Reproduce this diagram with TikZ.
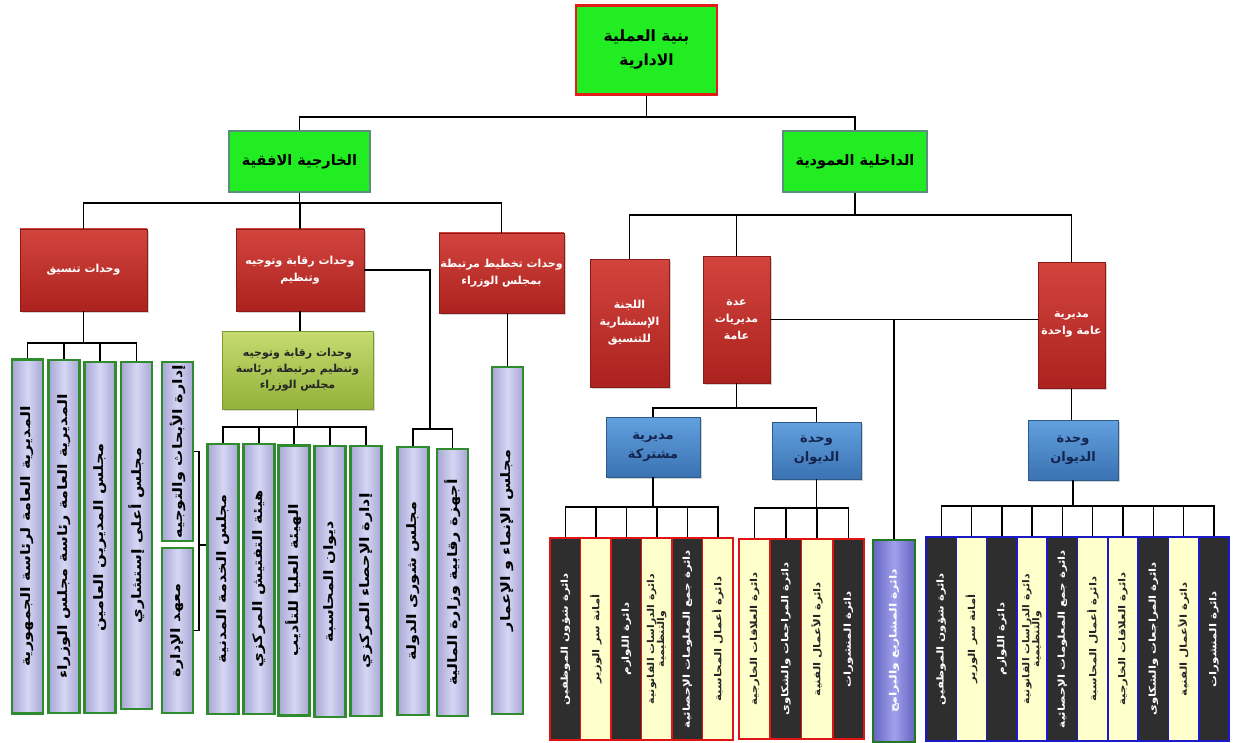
\documentclass[tikz,border=0pt]{standalone}
\usepackage{fontspec}
\usepackage{graphicx}
\usetikzlibrary{shadows}
\TeXXeTstate=1
\newfontfamily\arabicfont[Script=Arabic]{DejaVu Sans}
\newcommand{\AR}[1]{\beginR#1\endR}
\newcommand{\VT}[1]{\rotatebox{90}{\scalebox{1.24}[1]{\AR{#1}}}}
\newcommand{\VTT}[2]{\rotatebox{90}{\scalebox{1.15}[1]{\renewcommand{\arraystretch}{0.85}\begin{tabular}{@{}c@{}}\AR{#1}\\\AR{#2}\end{tabular}}}}
\definecolor{bgreen}{HTML}{22EC22}
\definecolor{topred}{HTML}{E41B1B}
\definecolor{tealb}{HTML}{5B8E7D}
\definecolor{redA}{HTML}{D2443E}
\definecolor{redB}{HTML}{AC221E}
\definecolor{oliveA}{HTML}{C6DB70}
\definecolor{oliveB}{HTML}{92B23A}
\definecolor{oliveD}{HTML}{7A9A30}
\definecolor{blueA}{HTML}{62A0DE}
\definecolor{blueB}{HTML}{3A72B2}
\definecolor{navy}{HTML}{14244E}
\definecolor{lavE}{HTML}{A6A6D4}
\definecolor{lavM}{HTML}{D6D6F4}
\definecolor{lavB}{HTML}{2E8B2E}
\definecolor{darkf}{HTML}{2E2E2E}
\definecolor{yelf}{HTML}{FFFFCC}
\definecolor{midred}{HTML}{E01414}
\definecolor{rblue}{HTML}{1A1AC8}
\definecolor{purA}{HTML}{6464C0}
\definecolor{purM}{HTML}{A0A0EC}
\definecolor{purB}{HTML}{1F7A1F}
\begin{document}
\begin{tikzpicture}[x=1pt,y=-1pt,
  conn/.style={draw=black, line width=1.4pt},
  topbox/.style={draw=topred, line width=2.5pt, fill=bgreen, inner sep=0pt, align=center,
    font=\arabicfont\bfseries\fontsize{15.5}{24}\selectfont},
  lvtwo/.style={draw=tealb, line width=1.5pt, fill=bgreen, inner sep=0pt, align=center,
    font=\arabicfont\bfseries\fontsize{14.5}{18}\selectfont},
  redbox/.style={draw=redB!80!black, line width=0.4pt, top color=redA, bottom color=redB, text=white,
    inner sep=0pt, align=center, drop shadow={opacity=0.35, shadow xshift=2pt, shadow yshift=-2pt},
    font=\arabicfont\bfseries\fontsize{11}{17}\selectfont},
  olivebox/.style={draw=oliveD, line width=0.6pt, top color=oliveA, bottom color=oliveB, text=black!85,
    inner sep=0pt, align=center, drop shadow={opacity=0.3, shadow xshift=2pt, shadow yshift=-2pt},
    font=\arabicfont\bfseries\fontsize{11}{16}\selectfont},
  bluebox/.style={draw=blueB!80!black, line width=0.5pt, top color=blueA, bottom color=blueB, text=navy,
    inner sep=0pt, align=center, drop shadow={opacity=0.35, shadow xshift=2pt, shadow yshift=-2pt},
    font=\arabicfont\bfseries\fontsize{13}{19}\selectfont},
  lav/.style={draw=lavB, line width=2.4pt, left color=lavE, right color=lavE, middle color=lavM,
    inner sep=0pt, minimum width=31pt, text=black,
    font=\arabicfont\bfseries\fontsize{13}{14}\selectfont},
  darkbox/.style={draw=#1, line width=1.6pt, fill=darkf, text=white, inner sep=0pt,
    minimum width=30.5pt, font=\arabicfont\bfseries\fontsize{9.5}{10.5}\selectfont},
  yelbox/.style={draw=#1, line width=1.6pt, fill=yelf, text=black!85, inner sep=0pt,
    minimum width=30.5pt, font=\arabicfont\bfseries\fontsize{9.5}{10.5}\selectfont},
  purbox/.style={draw=purB, line width=2.4pt, left color=purA, right color=purA, middle color=purM,
    text=white, inner sep=0pt, font=\arabicfont\bfseries\fontsize{10}{11}\selectfont}
]
\useasboundingbox (0,0) rectangle (1233,743);
\fill[white] (0,0) rectangle (1233,743);

% ---- level 1 and 2
\node[topbox, minimum width=141pt, minimum height=89pt] (top) at (646.5,50) {\AR{بنية العملية}\\\AR{الادارية}};
\node[lvtwo, minimum width=141pt, minimum height=61pt] (ext) at (299.5,161.5) {\AR{الخارجية الافقية}};
\node[lvtwo, minimum width=144pt, minimum height=61pt] (int) at (855,161.5) {\AR{الداخلية العمودية}};

% ---- level 3 (red)
\node[redbox, minimum width=127pt, minimum height=82pt] (tans) at (83.5,270) {\AR{وحدات تنسيق}};
\node[redbox, minimum width=128pt, minimum height=82pt] (raqaba) at (300,270) {\AR{وحدات رقابة وتوجيه}\\\AR{وتنظيم}};
\node[redbox, minimum width=125pt, minimum height=80pt] (takhtit) at (501.5,273) {\AR{وحدات تخطيط مرتبطة}\\\AR{بمجلس الوزراء}};
\node[redbox, minimum width=79pt, minimum height=128pt] (lajna) at (629.5,323) {\AR{اللجنة}\\\AR{الإستشارية}\\\AR{للتنسيق}};
\node[redbox, minimum width=67pt, minimum height=127pt] (idda) at (736.5,319.5) {\AR{عدة}\\\AR{مديريات}\\\AR{عامة}};
\node[redbox, minimum width=67pt, minimum height=126pt] (wahida) at (1071.5,325) {\AR{مديرية}\\\AR{عامة واحدة}};

% ---- olive and blue
\node[olivebox, minimum width=151pt, minimum height=78pt] (olive) at (297.5,370) {\AR{وحدات رقابة وتوجيه}\\\AR{وتنظيم مرتبطة برئاسة}\\\AR{مجلس الوزراء}};
\node[bluebox, minimum width=94pt, minimum height=60pt] (mush) at (653,447) {\AR{مديرية}\\\AR{مشتركة}};
\node[bluebox, minimum width=89pt, minimum height=57pt] (diwan1) at (816.5,450.5) {\AR{وحدة}\\\AR{الديوان}};
\node[bluebox, minimum width=90pt, minimum height=60pt] (diwan2) at (1073,450) {\AR{وحدة}\\\AR{الديوان}};

% ---- left lavender columns
\node[lav, minimum height=354pt] (v1) at (27.5,536.5) {\VT{المديرية العامة لرئاسة الجمهورية}};
\node[lav, minimum height=353pt] (v2) at (64,536.5) {\VT{المديرية العامة رئاسة مجلس الوزراء}};
\node[lav, minimum height=351pt] (v3) at (100,537.5) {\VT{مجلس المديرين العامين}};
\node[lav, minimum height=347pt] (v4) at (136.5,535.5) {\VT{مجلس أعلى إستشاري}};
\node[lav, minimum height=179pt] (v5) at (177.5,451.5) {\VT{إدارة الأبحاث والتوجيه}};
\node[lav, minimum height=165pt] (v6) at (177.5,630.5) {\VT{معهد الإدارة}};
\node[lav, minimum height=270pt] (w1) at (223,579) {\VT{مجلس الخدمة المدنية}};
\node[lav, minimum height=270pt] (w2) at (259,579) {\VT{هيئة التفتيش المركزي}};
\node[lav, minimum height=270pt] (w3) at (294,580.5) {\VT{الهيئة العليا للتأديب}};
\node[lav, minimum height=271pt] (w4) at (330,581.5) {\VT{ديوان المحاسبة}};
\node[lav, minimum height=270pt] (w5) at (366,581) {\VT{إدارة الإحصاء المركزي}};
\node[lav, minimum height=268pt] (s1) at (413,581) {\VT{مجلس شورى الدولة}};
\node[lav, minimum height=267pt] (s2) at (452.5,582.5) {\VT{أجهزة رقابية وزارة المالية}};
\node[lav, minimum height=347pt] (s3) at (507.5,540.5) {\VT{مجلس الإنماء و الإعمار}};

% ---- middle red-bordered columns
\node[darkbox=midred, minimum height=202pt] (m1) at (565.3,639) {\VT{دائرة شؤون الموظفين}};
\node[yelbox=midred, minimum height=202pt] (m2) at (595.8,639) {\VT{أمانة سر الوزير}};
\node[darkbox=midred, minimum height=202pt] (m3) at (626.3,639) {\VT{دائرة اللوازم}};
\node[yelbox=midred, minimum height=202pt] (m4) at (656.8,639) {\VTT{دائرة الدراسات القانونية}{والتنظيمية}};
\node[darkbox=midred, minimum height=202pt] (m5) at (687.3,639) {\VT{دائرة جمع المعلومات الإحصائية}};
\node[yelbox=midred, minimum height=202pt] (m6) at (717.8,639) {\VT{دائرة أعمال المحاسبة}};

\node[yelbox=midred, minimum width=31.25pt, minimum height=200pt] (d1) at (754.6,639) {\VT{دائرة العلاقات الخارجية}};
\node[darkbox=midred, minimum width=31.25pt, minimum height=200pt] (d2) at (785.9,639) {\VT{دائرة المراجعات والشكاوى}};
\node[yelbox=midred, minimum width=31.25pt, minimum height=200pt] (d3) at (817.1,639) {\VT{دائرة الأعمال الفنية}};
\node[darkbox=midred, minimum width=31.25pt, minimum height=200pt] (d4) at (848.4,639) {\VT{دائرة المنشورات}};

\node[purbox, minimum width=42pt, minimum height=202pt] (mashari) at (894,641) {\VT{دائرة المشاريع والبرامج}};

% ---- right blue-bordered columns
\node[darkbox=rblue, minimum width=30.3pt, minimum height=204pt] (r1) at (941.2,639) {\VT{دائرة شؤون الموظفين}};
\node[yelbox=rblue, minimum width=30.3pt, minimum height=204pt] (r2) at (971.5,639) {\VT{أمانة سر الوزير}};
\node[darkbox=rblue, minimum width=30.3pt, minimum height=204pt] (r3) at (1001.8,639) {\VT{دائرة اللوازم}};
\node[yelbox=rblue, minimum width=30.3pt, minimum height=204pt] (r4) at (1032.1,639) {\VTT{دائرة الدراسات القانونية}{والتنظيمية}};
\node[darkbox=rblue, minimum width=30.3pt, minimum height=204pt] (r5) at (1062.4,639) {\VT{دائرة جمع المعلومات الإحصائية}};
\node[yelbox=rblue, minimum width=30.3pt, minimum height=204pt] (r6) at (1092.7,639) {\VT{دائرة أعمال المحاسبة}};
\node[yelbox=rblue, minimum width=30.3pt, minimum height=204pt] (r7) at (1123.0,639) {\VT{دائرة العلاقات الخارجية}};
\node[darkbox=rblue, minimum width=30.3pt, minimum height=204pt] (r8) at (1153.3,639) {\VT{دائرة المراجعات والشكاوى}};
\node[yelbox=rblue, minimum width=30.3pt, minimum height=204pt] (r9) at (1183.6,639) {\VT{دائرة الأعمال الفنية}};
\node[darkbox=rblue, minimum width=30.3pt, minimum height=204pt] (r10) at (1213.9,639) {\VT{دائرة المنشورات}};

% ---- connectors
\coordinate (b1) at (646.5,117);
\draw[conn] (top.south) -- (b1);
\draw[conn] (b1) -| (ext.north);
\draw[conn] (b1) -| (int.north);

\coordinate (b2) at (299.5,203);
\draw[conn] (ext.south) -- (b2);
\foreach \n in {tans,raqaba,takhtit} \draw[conn] (b2) -| (\n.north);

\coordinate (b3) at (855,215);
\draw[conn] (int.south) -- (b3);
\foreach \n in {lajna,idda,wahida} \draw[conn] (b3) -| (\n.north);

\draw[conn] (idda.east) -- (idda.east -| wahida.west);
\path (idda.east -| mashari.north) coordinate (b4);
\draw[conn] (b4) -- (mashari.north);

\draw[conn] (raqaba.south) -- (raqaba.south |- olive.north);

\coordinate (b5) at (83.5,343);
\draw[conn] (tans.south) -- (b5);
\foreach \n in {v1,v2,v3,v4} \draw[conn] (b5) -| (\n.north);

\coordinate (br) at (199,545);
\draw[conn] (v5.east) -| (br);
\draw[conn] (v6.east) -| (br);
\draw[conn] (br) -- (br -| w1.west);

\coordinate (b6) at (297.5,427);
\draw[conn] (olive.south) -- (b6);
\foreach \n in {w1,w2,w3,w4,w5} \draw[conn] (b6) -| (\n.north);

\coordinate (b7) at (430,429);
\draw[conn] (raqaba.east) -| (b7);
\draw[conn] (b7) -| (s1.north);
\draw[conn] (b7) -| (s2.north);

\draw[conn] (s3.north) -- (s3.north |- takhtit.south);

\coordinate (b8) at (736.5,408);
\draw[conn] (idda.south) -- (b8);
\draw[conn] (b8) -| (mush.north);
\draw[conn] (b8) -| (diwan1.north);

\draw[conn] (wahida.south) -- (wahida.south |- diwan2.north);

\coordinate (b9) at (653,507);
\draw[conn] (mush.south) -- (b9);
\foreach \n in {m1,m2,m3,m4,m5,m6} \draw[conn] (b9) -| (\n.north);

\coordinate (b10) at (816.5,508);
\draw[conn] (diwan1.south) -- (b10);
\foreach \n in {d1,d2,d3,d4} \draw[conn] (b10) -| (\n.north);

\coordinate (b11) at (1073,506);
\draw[conn] (diwan2.south) -- (b11);
\foreach \n in {r1,r2,r3,r4,r5,r6,r7,r8,r9,r10} \draw[conn] (b11) -| (\n.north);
\end{tikzpicture}
\end{document}
